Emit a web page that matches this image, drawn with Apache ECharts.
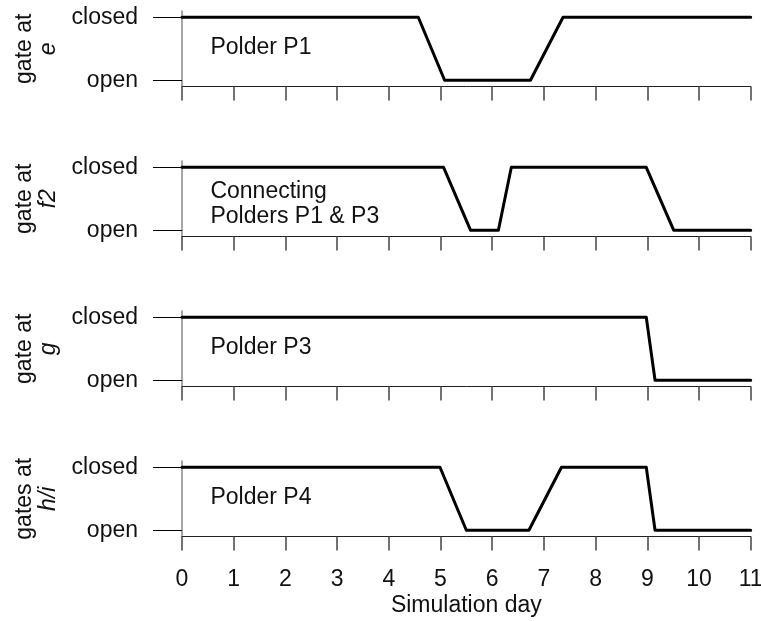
<!DOCTYPE html>
<html>
<head>
<meta charset="utf-8">
<script src="https://cdn.jsdelivr.net/npm/echarts@6/dist/echarts.min.js"></script>
<style>html,body{margin:0;padding:0;background:#fff}#c{width:761px;height:621px}</style>
</head>
<body>
<div id="c"></div>
<script>
// Data: [simulation day, gate state (1 = closed, 0 = open)]
const gateE  = [[0,1],[4.57,1],[5.08,0],[6.74,0],[7.37,1],[11,1]];
const gateF2 = [[0,1],[5.06,1],[5.58,0],[6.12,0],[6.37,1],[8.98,1],[9.51,0],[11,0]];
const gateG  = [[0,1],[8.98,1],[9.15,0],[11,0]];
const gateHI = [[0,1],[4.99,1],[5.5,0],[6.71,0],[7.34,1],[8.98,1],[9.15,0],[11,0]];
const panelSeries = [gateE, gateF2, gateG, gateHI];
const panelNamePlain = ['gate at', 'gate at', 'gate at', 'gates at'];
const panelNameItalic = ['e', 'f2', 'g', 'h/i'];
const panelNotes = ['Polder P1', 'Connecting\nPolders P1 & P3', 'Polder P3', 'Polder P4'];
const notePos = [[0.54, 0.52], [0.54, 0.41], [0.54, 0.52], [0.54, 0.52]];
const stateValues = [0, 1];
const stateLabels = ['open', 'closed'];
const xTicks = [0,1,2,3,4,5,6,7,8,9,10,11];
const xTitle = 'Simulation day';

const FONT = '"Liberation Sans", Arial, Helvetica, sans-serif';
const FS = 23;
const grids = [], xAxes = [], yAxes = [], series = [];
for (let i = 0; i < 4; i++) {
  grids.push({left: 182, width: 568.7, top: 11 + 150 * i, height: 75.5, containLabel: false, outerBoundsMode: 'none'});
  const last = i === 3;
  xAxes.push({
    type: 'value', gridIndex: i, min: xTicks[0], max: xTicks[xTicks.length - 1], interval: 1,
    axisLine: {show: true, onZero: false, lineStyle: {color: '#222', width: 1}},
    axisTick: {show: true, length: 14, lineStyle: {color: '#444', width: 1.5}},
    axisLabel: {show: last, margin: 32, fontSize: FS, fontFamily: FONT, color: '#111', hideOverlap: false},
    splitLine: {show: false},
    name: last ? xTitle : '', nameLocation: 'middle', nameGap: 58,
    nameTextStyle: {fontSize: FS, fontFamily: FONT, color: '#111'}
  });
  yAxes.push({
    type: 'value', gridIndex: i, min: -0.1, max: 1.1,
    axisLine: {show: true, lineStyle: {color: '#888', width: 1.5}},
    axisTick: {show: true, customValues: stateValues, length: 29, lineStyle: {color: '#000', width: 1}},
    axisLabel: {show: true, customValues: stateValues, margin: 44, fontSize: FS, fontFamily: FONT, color: '#111',
      formatter: v => stateLabels[stateValues.indexOf(Math.round(v))] || ''},
    splitLine: {show: false},
    name: panelNamePlain[i] + '\n{i|' + panelNameItalic[i] + '}',
    nameLocation: 'middle', nameGap: 121, nameRotate: 90,
    nameTextStyle: {fontSize: FS, fontFamily: FONT, color: '#111', lineHeight: 24,
      rich: {i: {fontStyle: 'italic', fontSize: FS, fontFamily: FONT, color: '#111', lineHeight: 24}}}
  });
  series.push({
    type: 'line', xAxisIndex: i, yAxisIndex: i, data: panelSeries[i],
    showSymbol: false, symbol: 'none', smooth: false, silent: true, animation: false,
    lineStyle: {color: '#000', width: 3, cap: 'round', join: 'round'}
  });
  series.push({
    type: 'scatter', xAxisIndex: i, yAxisIndex: i, data: [notePos[i]],
    symbolSize: 1, itemStyle: {color: 'rgba(0,0,0,0)', opacity: 1}, silent: true, animation: false,
    label: {show: true, position: 'right', distance: 0, formatter: panelNotes[i], opacity: 1,
      fontSize: FS, fontFamily: FONT, color: '#111', lineHeight: 25, align: 'left'}
  });
}
const chart = echarts.init(document.getElementById('c'), null, {renderer: 'canvas'});
chart.setOption({animation: false, backgroundColor: '#fff', grid: grids, xAxis: xAxes, yAxis: yAxes, series: series});
</script>
</body>
</html>
